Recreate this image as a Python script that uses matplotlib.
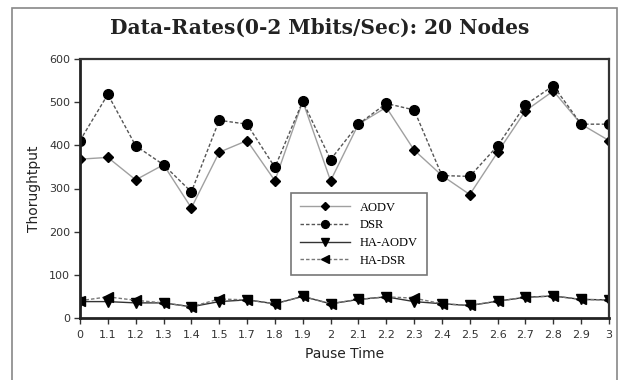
import matplotlib
matplotlib.use('Agg')
import matplotlib.pyplot as plt
from matplotlib.patches import Rectangle

# pause time categories
pause = ['0','1.1','1.2','1.3','1.4','1.5','1.7','1.8','1.9','2',
         '2.1','2.2','2.3','2.4','2.5','2.6','2.7','2.8','2.9','3']
aodv = [368,372,320,355,255,384,411,318,502,318,449,488,389,330,286,384,480,526,449,411]
dsr = [411,518,399,355,292,458,449,349,502,367,449,497,482,330,328,399,494,538,449,449]
ha_aodv = [38,38,35,35,26,38,42,33,50,33,43,49,38,33,29,39,48,51,43,42]
ha_dsr = [40,49,41,35,26,44,42,33,50,33,43,49,46,33,29,39,48,51,43,42]
yticks = [0,100,200,300,400,500,600]

fig = plt.figure(figsize=(6.19,3.8), dpi=100)
# grey outer frame
fig.patches.append(Rectangle((12/619, -0.05), 605/619, 1.05-8/380, transform=fig.transFigure,
                             fill=False, edgecolor='#888888', linewidth=1.2))
ax = fig.add_axes([80/619, 62/380, 529/619, 259/380])

x = list(range(len(pause)))
ax.plot(x, aodv, color='#a0a0a0', linewidth=1, marker='D', markersize=5,
        markerfacecolor='black', markeredgecolor='black', label='AODV')
ax.plot(x, dsr, color='#555555', linewidth=1, linestyle='--', dashes=(2.5,1.5), marker='o', markersize=7,
        markerfacecolor='black', markeredgecolor='black', label='DSR')
ax.plot(x, ha_aodv, color='#333333', linewidth=1, marker='v', markersize=6.5,
        markerfacecolor='black', markeredgecolor='black', label='HA-AODV')
ax.plot(x, ha_dsr, color='#777777', linewidth=1, linestyle='--', dashes=(2.5,1.5), marker='<', markersize=6.5,
        markerfacecolor='black', markeredgecolor='black', label='HA-DSR')

ax.set_xlim(0, len(pause)-1)
ax.set_ylim(0, 600)
ax.set_xticks(x)
ax.set_xticklabels(pause)
ax.set_yticks(yticks)
ax.tick_params(axis='both', direction='out', length=4, width=1, labelsize=8, colors='#333333', pad=3)
ax.tick_params(axis='x', pad=5)

for s in ['left','bottom']:
    ax.spines[s].set_linewidth(2)
    ax.spines[s].set_color('#222222')
for s in ['top','right']:
    ax.spines[s].set_linewidth(1.6)
    ax.spines[s].set_color('#333333')

ax.set_xlabel('Pause Time', fontsize=10, color='#222222', labelpad=5)
ax.set_ylabel('Thorughtput', fontsize=10, color='#222222', labelpad=6)
fig.text(0.517, 1-28/380, 'Data-Rates(0-2 Mbits/Sec): 20 Nodes', ha='center', va='center',
         fontsize=14.5, fontweight='bold', family='DejaVu Serif', color='#222222')

leg = ax.legend(loc='upper left', bbox_to_anchor=(0.399, 0.483), fancybox=False, framealpha=1,
                prop={'family':'Liberation Serif', 'size':9}, handlelength=4.0, markerscale=0.8,
                labelspacing=0.45, borderpad=0.7, handletextpad=0.8, borderaxespad=0)
leg.get_frame().set_edgecolor('#777777')
leg.get_frame().set_linewidth(1.2)

fig.savefig('out.png', dpi=100)
